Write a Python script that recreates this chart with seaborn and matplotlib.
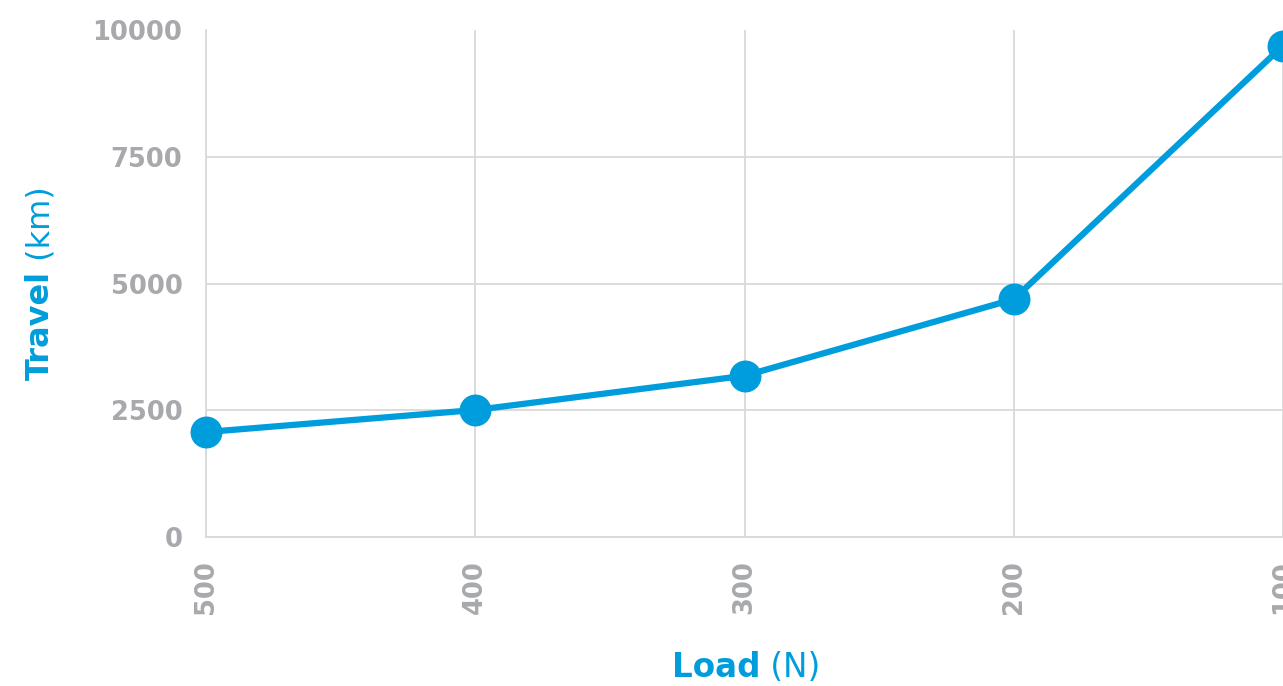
import matplotlib
matplotlib.use("Agg")
import matplotlib.pyplot as plt
import seaborn as sns
import pandas as pd

load_labels = ["500", "400", "300", "200", "100"]
travel_km = [2070, 2505, 3180, 4690, 9690]
y_ticks = [0, 2500, 5000, 7500, 10000]

BLUE = "#009ddc"
GRAY = "#a7a9ac"
GRID = "#d9d9d9"

sns.set_theme(style="white")
plt.rcParams["font.family"] = ["DejaVu Sans"]

df = pd.DataFrame({"pos": range(len(load_labels)), "travel": travel_km})

fig = plt.figure(figsize=(12.83, 6.86), dpi=100)
ax = fig.add_axes([206 / 1283, 1 - 537 / 686, (1283 - 206) / 1283, (537 - 30) / 686])

sns.lineplot(data=df, x="pos", y="travel", ax=ax, color=BLUE, linewidth=4.5,
             marker="o", markersize=23, markeredgewidth=0, clip_on=False, zorder=5)

ax.set_xlim(0, len(load_labels) - 1)
ax.set_ylim(0, 10000)
ax.set_xticks(range(len(load_labels)))
ax.set_xticklabels(load_labels, rotation=90, fontsize=18.5, fontweight="bold", color=GRAY)
ax.set_yticks(y_ticks)
ax.set_yticklabels([str(v) for v in y_ticks], fontsize=18.5, fontweight="bold", color=GRAY)
ax.tick_params(axis="both", length=0)
ax.tick_params(axis="y", pad=17)
ax.tick_params(axis="x", pad=17)
ax.grid(True, color=GRID, linewidth=1.3)
# no horizontal line at the top value
ygl = ax.get_ygridlines()
ygl[-1].set_visible(False)
for s in ["top", "right"]:
    ax.spines[s].set_visible(False)
for s in ["left", "bottom"]:
    ax.spines[s].set_color(GRID)
    ax.spines[s].set_linewidth(1.3)
ax.set_xlabel("")
ax.set_ylabel("")

# x label: "Load" bold + " (N)" regular
t1 = fig.text(672 / 1283, 1 - 677 / 686, "Load", fontsize=23.5, fontweight="bold",
              color=BLUE, ha="left", va="baseline")
fig.canvas.draw()
ax.annotate(" (N)", xy=(1, 0), xycoords=t1, fontsize=23.5, color=BLUE,
            ha="left", va="bottom", annotation_clip=False)

# y label: "Travel" bold + " (km)" regular, rotated
t2 = fig.text(56 / 1283, 1 - 380 / 686, "Travel", fontsize=23, fontweight="bold",
              color=BLUE, rotation=90, ha="right", va="bottom")
ax.annotate(" (km)", xy=(0.5, 1), xycoords=t2, fontsize=23, color=BLUE,
            rotation=90, ha="center", va="bottom", annotation_clip=False)

fig.savefig("out.png", dpi=100)
